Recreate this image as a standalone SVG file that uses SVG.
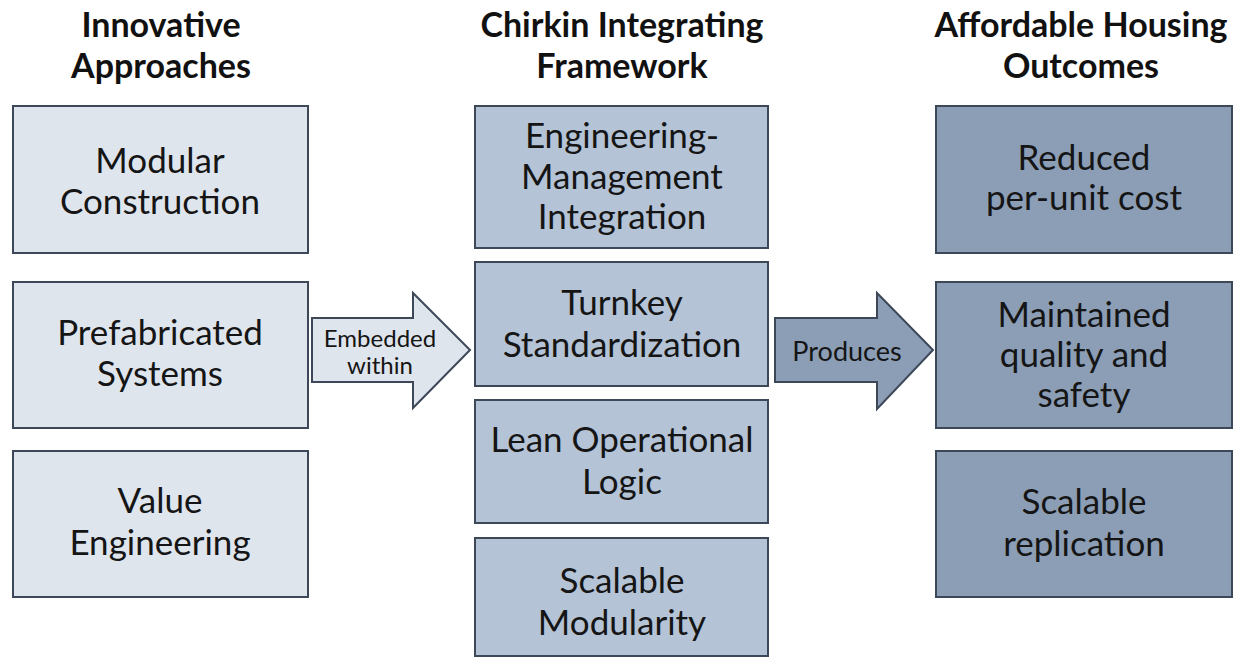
<svg xmlns="http://www.w3.org/2000/svg" width="1244" height="661" viewBox="0 0 1244 661">
  <style>
    .title { font-family: Lato, "Open Sans", sans-serif; font-weight: bold; font-size: 34px; fill: #111; text-anchor: middle; }
    .lbl { font-family: Lato, "Open Sans", sans-serif; font-size: 35px; fill: #151515; text-anchor: middle; }
    .alb { font-family: Lato, "Open Sans", sans-serif; font-size: 24px; fill: #151515; text-anchor: middle; }
    .box { stroke: #3c4858; stroke-width: 2; }
    .light { fill: #dfe5ed; }
    .mid { fill: #b4c3d5; }
    .dark { fill: #8b9eb6; }
  </style>
  <rect width="1244" height="661" fill="#ffffff"/>

  <!-- column headings -->
  <g id="headings">
    <text class="title" x="161" y="37">Innovative</text>
    <text class="title" x="161" y="78">Approaches</text>
    <text class="title" x="622" y="37">Chirkin Integrating</text>
    <text class="title" x="622" y="78">Framework</text>
    <text class="title" x="1081" y="37">Affordable Housing</text>
    <text class="title" x="1081" y="78">Outcomes</text>
  </g>

  <!-- innovative approaches -->
  <g id="modular-construction">
    <rect class="box light" x="13" y="106" width="295" height="147"/>
    <text class="lbl" x="160" y="173">Modular</text>
    <text class="lbl" x="160" y="214">Construction</text>
  </g>
  <g id="prefabricated-systems">
    <rect class="box light" x="13" y="282" width="295" height="146"/>
    <text class="lbl" x="160" y="345">Prefabricated</text>
    <text class="lbl" x="160" y="386">Systems</text>
  </g>
  <g id="value-engineering">
    <rect class="box light" x="13" y="451" width="295" height="146"/>
    <text class="lbl" x="160" y="513">Value</text>
    <text class="lbl" x="160" y="555">Engineering</text>
  </g>

  <!-- integrating framework -->
  <g id="engineering-management">
    <rect class="box mid" x="475" y="106" width="293" height="142"/>
    <text class="lbl" x="622" y="148">Engineering-</text>
    <text class="lbl" x="622" y="189">Management</text>
    <text class="lbl" x="622" y="229">Integration</text>
  </g>
  <g id="turnkey-standardization">
    <rect class="box mid" x="475" y="262" width="293" height="124"/>
    <text class="lbl" x="622" y="315">Turnkey</text>
    <text class="lbl" x="622" y="357">Standardization</text>
  </g>
  <g id="lean-operational-logic">
    <rect class="box mid" x="475" y="400" width="293" height="123"/>
    <text class="lbl" x="622" y="452">Lean Operational</text>
    <text class="lbl" x="622" y="494">Logic</text>
  </g>
  <g id="scalable-modularity">
    <rect class="box mid" x="475" y="538" width="293" height="118"/>
    <text class="lbl" x="622" y="593">Scalable</text>
    <text class="lbl" x="622" y="635">Modularity</text>
  </g>

  <!-- outcomes -->
  <g id="reduced-cost">
    <rect class="box dark" x="936" y="106" width="296" height="147"/>
    <text class="lbl" x="1084" y="170">Reduced</text>
    <text class="lbl" x="1084" y="210">per-unit cost</text>
  </g>
  <g id="quality-safety">
    <rect class="box dark" x="936" y="282" width="296" height="146"/>
    <text class="lbl" x="1084" y="327">Maintained</text>
    <text class="lbl" x="1084" y="367">quality and</text>
    <text class="lbl" x="1084" y="407">safety</text>
  </g>
  <g id="scalable-replication">
    <rect class="box dark" x="936" y="451" width="296" height="146"/>
    <text class="lbl" x="1084" y="514">Scalable</text>
    <text class="lbl" x="1084" y="556">replication</text>
  </g>

  <!-- block arrows between columns -->
  <g id="connectors">
    <path class="box light" d="M312,318 L413,318 L413,293 L470,350 L413,408 L413,382 L312,382 Z"/>
    <text class="alb" x="380" y="347">Embedded</text>
    <text class="alb" x="380" y="374">within</text>
    <path class="box dark" d="M775,318 L877,318 L877,293 L933,350 L877,409 L877,382 L775,382 Z"/>
    <text class="alb" x="847" y="361" style="font-size:27px">Produces</text>
  </g>
</svg>
